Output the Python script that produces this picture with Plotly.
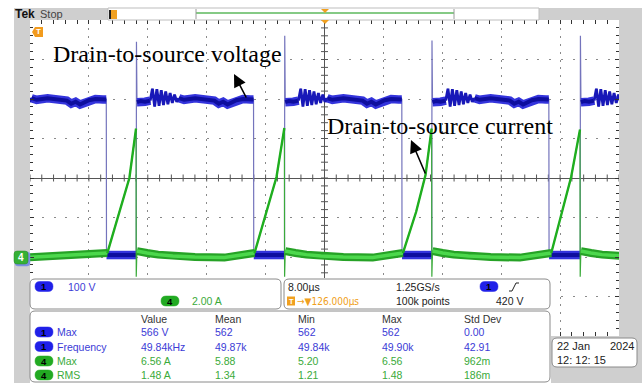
import plotly.graph_objects as go

W, H = 642, 383

# ---------------- data read from the screen ----------------
# time in microseconds (8 us/div, screen centre = 0)
# CH1 drain-source voltage (100 V/div), CH4 drain-source current (2 A/div)
ch1_rise_t = [-45.6, -25.57, -5.43, 14.57, 34.73]    # turn-off edges (voltage rises)
ch1_fall_t = [-29.64, -9.64, 10.50, 30.47, 50.5]     # turn-on edges (voltage falls)
ch1_spike_v = [550, 545, 560, 548, 560]              # overshoot at each turn-off
ch1_on_v = 5                                         # on-state voltage
# ringing after each turn-off: time after the edge (us) and voltage (V)
ring_dt = [1.9, 2.2, 2.5, 2.8, 3.1, 3.4, 3.7, 4.0, 4.3, 4.6, 4.9, 5.2, 5.5, 5.8]
ring_v = [396, 426, 381, 425, 383, 422, 385, 419, 387, 415, 390, 411, 393, 402]
# flat part of the plateau (us after the edge, V)
plat_dt = [0.1, 0.6, 1.2, 1.9, None, 5.8, 6.5, 8.0, 9.5, 10.6, 11.2, 11.8, 12.4,
           13.0, 13.6, 14.5, 15.5, 16.5]
plat_v = [392, 395, 393, 396, None, 402, 398, 402, 399, 396, 388, 393, 386,
          391, 397, 400, 399, 400]

# CH4 current ramps during each on-time (us, A)
ch4_ramp_t = [[-29.5, -28.25, -26.5, -25.6],
              [-9.51, -7.88, -6.52, -5.45],
              [10.65, 12.45, 13.72, 14.55],
              [30.8, 31.9, 33.5, 34.7]]
ch4_ramp_i = [[0.2, 1.8, 4.0, 6.5],
              [0.2, 2.23, 4.05, 6.53],
              [0.2, 2.29, 4.15, 6.5],
              [0.2, 1.8, 4.05, 6.45]]
ch4_dip_i = -1.0                                     # undershoot at turn-off
ch4_after_dt = [0.12, 0.6, 1.5, 3.0, 5.0, 8.0, 12.0]  # after turn-off (us)
ch4_after_i = [0.3, 0.25, 0.2, 0.12, 0.05, 0.0, -0.03]
ch4_idle_i = -0.03

# readouts
ch1_scale = "100 V"
ch4_scale = "2.00 A"
time_scale = "8.00µs"
sample_rate = "1.25GS/s"
trig_pos = "→▼126.000µs"
rec_len = "100k points"
trig_level = "420 V"
meas_header = ["Value", "Mean", "Min", "Max", "Std Dev"]
meas_src = ["1", "1", "4", "4"]
meas_name = ["Max", "Frequency", "Max", "RMS"]
meas_value = ["566 V", "49.84kHz", "6.56 A", "1.48 A"]
meas_mean = ["562", "49.87k", "5.88", "1.34"]
meas_min = ["562", "49.84k", "5.20", "1.21"]
meas_max = ["562", "49.90k", "6.56", "1.48"]
meas_std = ["0.00", "42.91", "962m", "186m"]
date_day = "22 Jan"
date_year = "2024"
date_time = "12: 12: 15"

# ---------------- build waveforms ----------------
t_full, v_full, band_t, band_v, ring_t, ring_y = [], [], [], [], [], []
for k, r in enumerate(ch1_rise_t):
    f = ch1_fall_t[k]
    t_full += [r, r + 0.03]
    v_full += [ch1_on_v, ch1_spike_v[k]]
    seg_t, seg_v = [], []
    for d, v in zip(plat_dt, plat_v):
        if d is None:
            seg_t.append(None)
            seg_v.append(None)
        elif r + d < f - 0.05:
            seg_t.append(r + d)
            seg_v.append(v)
    last = [v for v in seg_v if v is not None][-1]
    seg_t.append(f)
    seg_v.append(last)
    band_t += seg_t + [None]
    band_v += seg_v + [None]
    rt_ = [r + d for d in ring_dt if r + d < f]
    ring_t += rt_ + [None]
    ring_y += ring_v[:len(rt_)] + [None]
    # full trace (thin) in time order
    pts = [(a, b) for a, b in zip(seg_t, seg_v) if a is not None] + list(zip(rt_, ring_v))
    pts.sort()
    t_full += [p[0] for p in pts]
    v_full += [p[1] for p in pts]
    nxt = ch1_rise_t[k + 1] if k + 1 < len(ch1_rise_t) else f + 4.1
    t_full += [f + 0.03, nxt]
    v_full += [ch1_on_v, ch1_on_v]
    band_t += [f + 0.03, nxt, None]
    band_v += [ch1_on_v, ch1_on_v, None]

c_t, c_i = [-41.0], [ch4_idle_i]
base_t, base_i = [-41.0], [ch4_idle_i]
ramp_t, ramp_i = [], []
for k in range(len(ch4_ramp_t)):
    rt, ri = ch4_ramp_t[k], ch4_ramp_i[k]
    base_t += [rt[0], None]
    base_i += [ri[0], None]
    c_t += rt
    c_i += ri
    ramp_t += rt + [None]
    ramp_i += ri + [None]
    pk = rt[-1]
    c_t += [pk + 0.03]
    c_i += [ch4_dip_i]
    nxt = ch4_ramp_t[k + 1][0] if k + 1 < len(ch4_ramp_t) else 45.0
    at = [pk + d for d in ch4_after_dt if pk + d < nxt]
    ai = [v for d, v in zip(ch4_after_dt, ch4_after_i) if pk + d < nxt]
    c_t += at
    c_i += ai
    base_t += at
    base_i += ai

# ---------------- helpers ----------------
def X(x):
    return x / W


def Y(y):
    return 1 - y / H


shapes, annos = [], []


def rect(x0, y0, x1, y1, fill, line=None, lw=0):
    shapes.append(dict(type="rect", xref="paper", yref="paper", x0=X(x0), x1=X(x1),
                       y0=Y(y1), y1=Y(y0), fillcolor=fill,
                       line=dict(color=line or fill, width=lw), layer="above"))


def rrect(x0, y0, x1, y1, r, fill, line, lw=1):
    p = (f"M{X(x0 + r)},{Y(y0)} L{X(x1 - r)},{Y(y0)} Q{X(x1)},{Y(y0)} {X(x1)},{Y(y0 + r)} "
         f"L{X(x1)},{Y(y1 - r)} Q{X(x1)},{Y(y1)} {X(x1 - r)},{Y(y1)} "
         f"L{X(x0 + r)},{Y(y1)} Q{X(x0)},{Y(y1)} {X(x0)},{Y(y1 - r)} "
         f"L{X(x0)},{Y(y0 + r)} Q{X(x0)},{Y(y0)} {X(x0 + r)},{Y(y0)} Z")
    shapes.append(dict(type="path", xref="paper", yref="paper", path=p, fillcolor=fill,
                       line=dict(color=line, width=lw), layer="above"))


def poly(pts, fill, line=None, lw=0, closed=True):
    p = "M" + " L".join(f"{X(a)},{Y(b)}" for a, b in pts) + (" Z" if closed else "")
    shapes.append(dict(type="path", xref="paper", yref="paper", path=p,
                       fillcolor=fill if closed else None,
                       line=dict(color=line or fill, width=lw), layer="above"))


SANS = "Liberation Sans"


def txt(x, y, s, color="#222222", size=10.5, anchor="left", family=SANS, bold=False):
    annos.append(dict(x=X(x), y=Y(y), xref="paper", yref="paper", text=f"<b>{s}</b>" if bold else s,
                      showarrow=False, xanchor=anchor, yanchor="middle",
                      font=dict(family=family, size=size, color=color), borderpad=0))


def pill(cx, cy, label, fill):
    rrect(cx - 9, cy - 5, cx + 9, cy + 5, 5, fill, fill, 0.5)
    txt(cx, cy, label, "#000000", 9.5, "center", bold=True)


BLUE_T = "#3b3bd6"
GREEN_T = "#3aaa3a"
PILL_B = "#2020e8"
PILL_G = "#22aa22"
GRAY = "#cfcfcf"

# ---------------- frame ----------------
rect(14, 8, 30, 383, GRAY)
rect(14, 8, 108, 20, GRAY)
rect(539, 8, 642, 20, GRAY)
rect(619, 8, 642, 383, GRAY)
rect(550, 336, 642, 383, GRAY)
rect(108, 8, 539, 20, "white", "#bdbdbd", 1)
shapes.append(dict(type="line", xref="paper", yref="paper", x0=X(196), x1=X(454), y0=Y(13), y1=Y(13),
                   line=dict(color="#5cb85c", width=1.5), layer="above"))
for xx in (196, 454):
    shapes.append(dict(type="line", xref="paper", yref="paper", x0=X(xx), x1=X(xx), y0=Y(9), y1=Y(19),
                       line=dict(color="#9a9a9a", width=1), layer="above"))
rect(109, 10, 117, 19, "#f0a020")
rect(109, 10, 111, 19, "#202020")
poly([(321, 9), (329, 9), (325, 13)], "#f0a020")
poly([(321, 20), (329, 20), (325, 24)], "#f0a020")
txt(14, 14, "Tek", "#111111", 12, bold=True)
txt(39, 14, "Stop", "#444444", 11)

# trigger position and ground markers
poly([(32, 32), (35, 27), (43, 27), (43, 37), (35, 37)], "#f29b1d")
txt(38.5, 32, "T", "white", 8, "center", bold=True)
rrect(15, 252, 30, 266, 3, "#7b8ee0", "#7b8ee0", 0.5)
rrect(14, 251, 28, 264, 3, "#35b035", "#2a8a2a", 0.5)
txt(21, 257.5, "4", "white", 10, "center", bold=True)

# ---------------- readout panels ----------------
rect(30, 278, 551, 383, "white")
rrect(30, 279, 281, 309, 5, "white", "#8a8a8a", 1)
rrect(284, 279, 550, 309, 5, "white", "#8a8a8a", 1)
rrect(30, 311, 550, 382, 5, "white", "#8a8a8a", 1)
rrect(552, 338, 637, 367, 5, "white", "#8a8a8a", 1)

pill(44, 286.5, "1", PILL_B)
txt(67, 286.5, ch1_scale, BLUE_T)
pill(170, 301, "4", PILL_G)
txt(191, 301, ch4_scale, GREEN_T)

txt(287, 286.5, time_scale)
txt(395, 286.5, sample_rate)
pill(489, 286.5, "1", PILL_B)
poly([(509, 291), (512, 291), (516, 283), (519, 283)], None, "#222222", 1, closed=False)
rect(287, 296.5, 295, 305.5, "#f0a020")
txt(291, 301, "T", "white", 7.5, "center", bold=True)
txt(296, 301, trig_pos, "#f0a020", family="DejaVu Sans Condensed, DejaVu Sans", size=10)
txt(395, 301, rec_len)
txt(524, 301, trig_level, anchor="right")

col_x = [140, 214, 297, 381, 463]
for cx, h in zip(col_x, meas_header):
    txt(cx, 319, h, "#333333")
row_y = [332, 346.5, 361, 375]
for j in range(len(meas_name)):
    blue = meas_src[j] == "1"
    c = BLUE_T if blue else GREEN_T
    pill(44, row_y[j], meas_src[j], PILL_B if blue else PILL_G)
    txt(56, row_y[j], meas_name[j], c)
    for cx, col in zip(col_x, [meas_value, meas_mean, meas_min, meas_max, meas_std]):
        txt(cx, row_y[j], col[j], c)

txt(556, 346, date_day, "#222222", 11)
txt(635, 346, date_year, "#222222", 11, "right")
txt(556, 359.5, date_time, "#222222", 11)

# ---------------- labels with arrows ----------------
SERIF = "Liberation Serif"
txt(52, 54, "Drain-to-source voltage", "#000000", 24, family=SERIF)
txt(326, 126, "Drain-to-source current", "#000000", 24, family=SERIF)
for (hx, hy, tx, ty) in [(234, 74, 247, 99), (411, 140, 426, 175)]:
    annos.append(dict(x=X(hx), y=Y(hy), xref="paper", yref="paper", ax=tx - hx, ay=ty - hy,
                      axref="pixel", ayref="pixel", text="", showarrow=True, arrowhead=2,
                      arrowsize=1.6, arrowwidth=1.6, arrowcolor="#000000"))

# ---------------- traces ----------------
fig = go.Figure()
# graticule crosshair ticks
hx_ticks = [-40 + 1.6 * i for i in range(51)]
vy_ticks = [-4 + 0.2 * i for i in range(41)]
fig.add_trace(go.Scatter(x=hx_ticks, y=[0] * len(hx_ticks), mode="markers", xaxis="x", yaxis="y",
                         marker=dict(symbol="line-ns-open", size=5, color="#555555",
                                     line=dict(color="#555555", width=1)),
                         hoverinfo="skip"))
fig.add_trace(go.Scatter(x=[0] * len(vy_ticks), y=vy_ticks, mode="markers", xaxis="x", yaxis="y",
                         marker=dict(symbol="line-ew-open", size=5, color="#555555",
                                     line=dict(color="#555555", width=1)),
                         hoverinfo="skip"))

# CH1
fig.add_trace(go.Scatter(x=t_full, y=v_full, mode="lines", xaxis="x", yaxis="y2",
                         line=dict(color="#7474bc", width=1.2), hoverinfo="skip"))
fig.add_trace(go.Scatter(x=band_t, y=band_v, mode="lines", xaxis="x", yaxis="y2",
                         line=dict(color="#3434dc", width=8.5), hoverinfo="skip"))
fig.add_trace(go.Scatter(x=band_t, y=band_v, mode="lines", xaxis="x", yaxis="y2",
                         line=dict(color="#0e0e9e", width=4), hoverinfo="skip"))
fig.add_trace(go.Scatter(x=ring_t, y=ring_y, mode="lines", xaxis="x", yaxis="y2",
                         line=dict(color="#1818b8", width=2.8), hoverinfo="skip"))
# CH4
fig.add_trace(go.Scatter(x=c_t, y=c_i, mode="lines", xaxis="x", yaxis="y3",
                         line=dict(color="#3aaa3a", width=1.2), hoverinfo="skip"))
fig.add_trace(go.Scatter(x=base_t, y=base_i, mode="lines", xaxis="x", yaxis="y3",
                         line=dict(color="#26a226", width=8), hoverinfo="skip"))
fig.add_trace(go.Scatter(x=base_t, y=base_i, mode="lines", xaxis="x", yaxis="y3",
                         line=dict(color="#4cd84c", width=3.5), hoverinfo="skip"))
fig.add_trace(go.Scatter(x=ramp_t, y=ramp_i, mode="lines", xaxis="x", yaxis="y3",
                         line=dict(color="#1fae1f", width=2.4), hoverinfo="skip"))

ax_common = dict(showgrid=True, gridcolor="#8a8a8a", gridwidth=1.2, zeroline=True,
                 zerolinecolor="#555555", zerolinewidth=1, showline=True, linecolor="#333333",
                 linewidth=1.5, mirror="allticks", ticks="inside", ticklen=4, tickcolor="#333333",
                 showticklabels=False, fixedrange=True)
fig.update_layout(
    width=W, height=H, margin=dict(l=0, r=0, t=0, b=0),
    paper_bgcolor="white", plot_bgcolor="white", showlegend=False,
    xaxis=dict(domain=[30 / W, 619 / W], range=[-40, 40], dtick=8, tick0=0,
               griddash="2px,5.9px",
               minor=dict(dtick=1.6, ticks="inside", ticklen=3, tickcolor="#333333", showgrid=False),
               **ax_common),
    yaxis=dict(domain=[1 - 336 / H, 1 - 20 / H], range=[-4, 4], dtick=1, tick0=0,
               griddash="2px,9.8px",
               minor=dict(dtick=0.2, ticks="inside", ticklen=3, tickcolor="#333333", showgrid=False),
               **ax_common),
    yaxis2=dict(overlaying="y", range=[-200, 600], visible=False, fixedrange=True),
    yaxis3=dict(overlaying="y", range=[-4, 12], visible=False, fixedrange=True),
    shapes=shapes, annotations=annos,
)
fig.write_html("out.html")
